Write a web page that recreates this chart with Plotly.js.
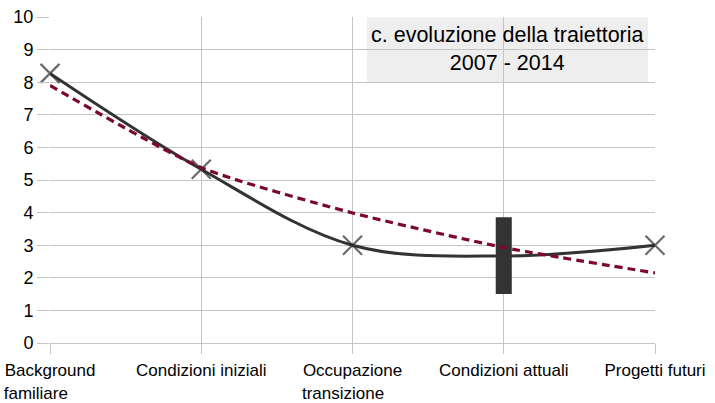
<!DOCTYPE html>
<html>
<head>
<meta charset="utf-8">
<script src="https://cdn.plot.ly/plotly-3.0.1.min.js"></script>
<style>html,body{margin:0;padding:0;background:#fff;}#chart{width:715px;height:403px;}</style>
</head>
<body>
<div id="chart"></div>
<script>
const categories = ["Background<br>familiare\u00a0\u00a0\u00a0\u00a0\u00a0\u00a0", "Condizioni iniziali", "Occupazione<br>transizione\u00a0\u00a0\u00a0\u00a0", "Condizioni attuali", "Progetti futuri"];
const trajectory = [8.27, 5.33, 3.0, 2.67, 3.0];
const trendline = [7.9, 5.38, 3.99, 2.93, 2.15];
const rangeLow = [1.5];
const rangeHigh = [3.86];
const rangeCategory = [categories[3]];
const titleText = "c. evoluzione della traiettoria<br>2007 - 2014";

const markerSymbols = trajectory.map((v, i) => i === 3 ? "circle" : "x-thin-open");
const markerSizes = trajectory.map((v, i) => i === 3 ? 0 : 19);

const data = [
  {
    type: "scatter",
    mode: "lines+markers",
    x: categories,
    y: trajectory,
    cliponaxis: false,
    line: {color: "#333333", width: 3, shape: "spline", smoothing: 1},
    marker: {symbol: markerSymbols, size: markerSizes, color: "#2a2a2a", line: {color: "#2a2a2a", width: 2.2}},
    showlegend: false
  },
  {
    type: "scatter",
    mode: "lines",
    x: categories,
    y: trendline,
    line: {color: "#7b0a2a", width: 3.2, dash: "8px,5px", shape: "spline", smoothing: 0.6},
    showlegend: false
  },
  {
    type: "bar",
    x: rangeCategory,
    base: rangeLow,
    y: rangeHigh.map((h, i) => h - rangeLow[i]),
    width: 0.106,
    marker: {color: "#333333", line: {width: 0}},
    hoverinfo: "skip",
    showlegend: false
  }
];

const layout = {
  width: 715,
  height: 403,
  margin: {l: 50, r: 60, t: 17, b: 60},
  paper_bgcolor: "#ffffff",
  plot_bgcolor: "#ffffff",
  font: {family: "'Liberation Sans', Arial, sans-serif", size: 18, color: "#000000"},
  showlegend: false,
  xaxis: {
    type: "category",
    categoryorder: "array",
    categoryarray: categories,
    range: [0, 4],
    showgrid: true,
    gridcolor: "#c4c4c4",
    gridwidth: 1,
    zeroline: false,
    showline: false,
    ticks: "outside",
    ticklen: 10,
    tickcolor: "#c4c4c4",
    ticklabelstandoff: 2,
    tickfont: {size: 17, color: "#000000"},
    tickangle: 0,
    fixedrange: true
  },
  yaxis: {
    range: [0, 10],
    dtick: 1,
    showgrid: true,
    gridcolor: "#c4c4c4",
    gridwidth: 1,
    zeroline: true,
    zerolinecolor: "#c4c4c4",
    zerolinewidth: 1,
    showline: false,
    ticks: "outside",
    ticklen: 12,
    tickcolor: "#c4c4c4",
    tickfont: {size: 18, color: "#000000"},
    fixedrange: true
  },
  shapes: [
    {type: "rect", xref: "paper", yref: "paper", x0: 317/605, x1: 598/605, y0: (343-82)/326, y1: (343-17.5)/326,
     fillcolor: "#eeeeee", line: {width: 0}, layer: "between"}
  ],
  annotations: [
    {xref: "paper", yref: "paper", x: (507.5-50)/605, y: (343-49.5)/326, xanchor: "center", yanchor: "middle",
     text: titleText, showarrow: false, font: {size: 21.5, color: "#000000"}, align: "center"}
  ]
};

Plotly.newPlot("chart", data, layout, {displayModeBar: false, staticPlot: true});
</script>
</body>
</html>
